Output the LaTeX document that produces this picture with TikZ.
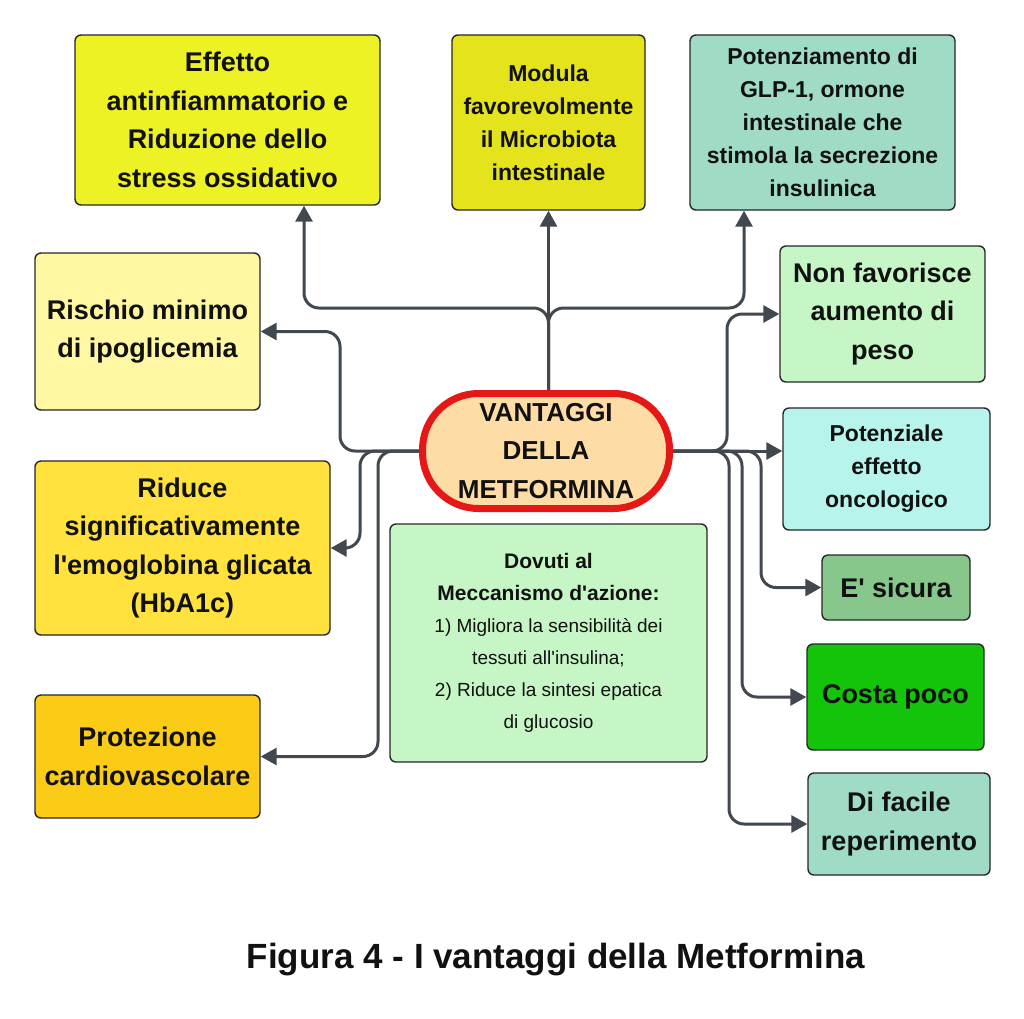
\documentclass[tikz,border=0pt]{standalone}
\usepackage{fontspec}
\newfontfamily\lib{Liberation Sans}
\usetikzlibrary{arrows.meta}
\definecolor{ceff}{HTML}{EDF224}
\definecolor{cmod}{HTML}{E5E31C}
\definecolor{cpot}{HTML}{9FDBC5}
\definecolor{cris}{HTML}{FFF7A1}
\definecolor{cnon}{HTML}{C6F6C6}
\definecolor{cpeach}{HTML}{FEDCA6}
\definecolor{cred}{HTML}{E61717}
\definecolor{crid}{HTML}{FFE23E}
\definecolor{cdov}{HTML}{C6F6C6}
\definecolor{cpro}{HTML}{FACC15}
\definecolor{cpte}{HTML}{B6F4EC}
\definecolor{csic}{HTML}{88C78C}
\definecolor{ccos}{HTML}{14C40B}
\definecolor{cdif}{HTML}{9FDBC5}
\definecolor{bd}{HTML}{262626}
\definecolor{ln}{HTML}{414850}
\definecolor{txt}{HTML}{111111}
\begin{document}
\begin{tikzpicture}[x=1pt,y=-1pt,
  box/.style={draw=bd, line width=1.4pt, rounded corners=6pt, align=center, inner sep=0pt, text=txt},
  big/.style={font=\lib\bfseries\fontsize{27}{38.5}\selectfont},
  med/.style={font=\lib\bfseries\fontsize{23}{33}\selectfont},
  arr/.style={draw=ln, line width=3pt, rounded corners=15pt, -{Triangle[length=16pt 0,width=17pt 0]}}]
\useasboundingbox[fill=white] (0,0) rectangle (1024,1018);

\node[box,big,fill=ceff,minimum width=305pt,minimum height=170pt] (eff) at (227.5,120) {Effetto\\antinfiammatorio e\\Riduzione dello\\stress ossidativo};
\node[box,med,fill=cmod,minimum width=193pt,minimum height=175pt] (mod) at (548.5,122.5) {Modula\\favorevolmente\\il Microbiota\\intestinale};
\node[box,med,fill=cpot,minimum width=265pt,minimum height=175pt] (pot) at (822.5,122.5) {Potenziamento di\\GLP-1, ormone\\intestinale che\\stimola la secrezione\\insulinica};
\node[box,big,fill=cris,minimum width=225pt,minimum height=157pt] (ris) at (147.5,331.5) {Rischio minimo\\di ipoglicemia};
\node[box,big,fill=cnon,minimum width=205pt,minimum height=136pt] (non) at (882.5,314) {Non favorisce\\aumento di\\peso};
\node[draw=cred, line width=7pt, fill=cpeach, rounded corners=56pt, minimum width=247pt, minimum height=115pt, font=\lib\bfseries\fontsize{26}{38.5}\selectfont, align=center, inner sep=0pt, text=txt] (c) at (546,451) {VANTAGGI\\DELLA\\METFORMINA};
\node[box,big,fill=crid,minimum width=295pt,minimum height=174pt] (rid) at (182.5,548) {Riduce\\significativamente\\l'emoglobina glicata\\(HbA1c)};
\node[box,fill=cdov,minimum width=317pt,minimum height=238pt,font=\lib\fontsize{19}{32}\selectfont] (dov) at (548.5,643) {{\bfseries\fontsize{21}{32}\selectfont Dovuti al}\\{\bfseries\fontsize{21}{32}\selectfont Meccanismo d'azione:}\\1) Migliora la sensibilità dei\\tessuti all'insulina;\\2) Riduce la sintesi epatica\\di glucosio};
\node[box,big,fill=cpro,minimum width=225pt,minimum height=123pt] (pro) at (147.5,756.5) {Protezione\\cardiovascolare};
\node[box,med,fill=cpte,minimum width=207pt,minimum height=122pt] (pte) at (886.5,469) {Potenziale\\effetto\\oncologico};
\node[box,big,fill=csic,minimum width=148pt,minimum height=65pt] (sic) at (896,587.5) {E' sicura};
\node[box,big,fill=ccos,minimum width=177pt,minimum height=106pt] (cos) at (895.5,697) {Costa poco};
\node[box,big,fill=cdif,minimum width=182pt,minimum height=102pt] (dif) at (899,824) {Di facile\\reperimento};

\node[font=\lib\bfseries\fontsize{35}{42}\selectfont, text=txt] (cap) at (556,960) {Figura 4 - I vantaggi della Metformina};

\coordinate (ys) at (0,308);
\coordinate (xe) at (304,0);
\coordinate (xp) at (744,0);
\coordinate (kl1) at (340,0);
\coordinate (kl2) at (360,0);
\coordinate (kl3) at (378,0);
\coordinate (kr1) at (727,0);
\coordinate (kr2) at (761,0);
\coordinate (kr3) at (742,0);
\coordinate (kr4) at (729,0);

\draw[arr] (c.north -| mod.south) -- (mod.south);
\draw[arr] (c.north -| mod.south) |- (xe |- ys) -- (xe |- eff.south);
\draw[arr] (c.north -| mod.south) |- (xp |- ys) -- (xp |- pot.south);
\draw[arr] (c.west) -| (kl1 |- ris.east) -- (ris.east);
\draw[arr] (c.west) -| (kl2 |- rid.east) -- (rid.east);
\draw[arr] (c.west) -| (kl3 |- pro.east) -- (pro.east);
\draw[arr] (c.east) -| (kr1 |- non.west) -- (non.west);
\draw[arr] (c.east) -- (c.east -| pte.west);
\draw[arr] (c.east) -| (kr2 |- sic.west) -- (sic.west);
\draw[arr] (c.east) -| (kr3 |- cos.west) -- (cos.west);
\draw[arr] (c.east) -| (kr4 |- dif.west) -- (dif.west);
\end{tikzpicture}
\end{document}
